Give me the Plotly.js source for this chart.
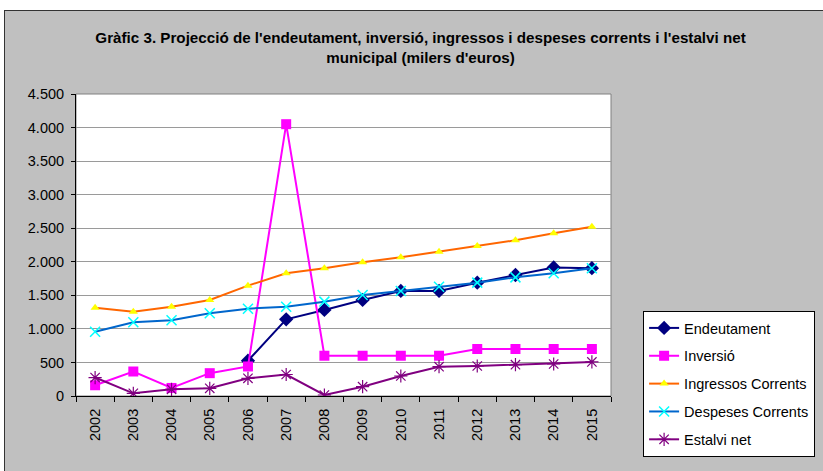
<!DOCTYPE html>
<html><head><meta charset="utf-8">
<script src="https://cdn.plot.ly/plotly-3.0.1.min.js"></script>
<style>
html,body{margin:0;padding:0;background:#fff;width:823px;height:471px;overflow:hidden;}
#chart{position:absolute;left:4px;top:10px;width:819px;height:461px;border-left:1px solid #333;border-top:1px solid #333;}
</style></head><body>
<div id="chart"></div>
<script>
const years = ['2002','2003','2004','2005','2006','2007','2008','2009','2010','2011','2012','2013','2014','2015'];
const endeutament = [null,null,null,null,526,1143,1282,1431,1565,1565,1689,1803,1915,1905];
const inversio = [160,365,120,340,440,4050,600,600,600,600,700,700,700,700];
const ingressos = [1316,1256,1331,1431,1644,1828,1903,1992,2067,2151,2236,2320,2424,2523];
const despeses = [958,1098,1128,1232,1301,1331,1406,1505,1565,1629,1689,1768,1828,1903];
const estalvi = [275,40,100,115,264,320,15,139,298,437,447,467,477,507];

const F = 'Liberation Sans, Arial, sans-serif';
function tr(name, y, lineColor, sym, mColor, mSize, mLine, grp){
  return {type:'scatter', mode:'lines+markers', name:name, x:years, y:y,
    legendgroup:grp, connectgaps:false,
    line:{color:lineColor, width:2},
    marker:{symbol:sym, color:mColor, size:mSize, line:{color:mColor, width:mLine}}};
}
const data = [
  tr('Endeutament', endeutament, '#000080', 'diamond', '#000080', 11, 0, 'a'),
  tr('Inversió', inversio, '#FF00FF', 'square', '#FF00FF', 10, 0, 'b'),
  tr('Ingressos Corrents', ingressos, '#FF6600', 'triangle-up', '#FFFF00', 8, 0, 'c'),
  tr('Despeses Corrents', despeses, '#0066CC', 'x-thin-open', '#00FFFF', 10, 1.5, 'd'),
  tr('Estalvi net', estalvi, '#800080', 'asterisk-open', '#800080', 11, 1.2, 'e')
];
const layout = {
  width:818, height:460,
  paper_bgcolor:'#c0c0c0', plot_bgcolor:'#ffffff',
  margin:{l:71, r:212, t:83, b:75, pad:0, autoexpand:false},
  separators:',.',
  font:{family:F, size:14, color:'#000'},
  title:{text:"Gràfic 3. Projecció de l'endeutament, inversió, ingressos i despeses corrents i l'estalvi net<br>municipal (milers d'euros)",
    font:{family:F, size:15.2, color:'#000', weight:'bold'},
    xref:'container', x:0.508, xanchor:'center', yref:'container', y:0.93, yanchor:'top'},
  xaxis:{type:'category', range:[-0.5,13.5], tickangle:-90, ticks:'outside', ticklen:5, tickcolor:'#000',
    tickson:'boundaries', showline:true, linecolor:'#000', linewidth:1, showgrid:false, ticklabelstandoff:6,
    tickfont:{family:F, size:14.5, color:'#000'}, fixedrange:true, automargin:false},
  yaxis:{range:[0,4500], dtick:500, tickformat:',d', ticks:'outside', ticklen:4, tickcolor:'#000',
    showline:true, linecolor:'#000', linewidth:1, gridcolor:'#9a9a9a', gridwidth:1, zeroline:false, ticklabelstandoff:4,
    tickfont:{family:F, size:14.5, color:'#000'}, fixedrange:true, automargin:false},
  shapes:[{type:'rect', xref:'paper', yref:'paper', x0:0, x1:1, y0:0, y1:1, line:{color:'#808080', width:1}, layer:'below'}],
  legend:{x:1.06, xanchor:'left', y:0.2815, yanchor:'top', bgcolor:'#fff', bordercolor:'#000', borderwidth:1,
    font:{family:F, size:14.5, color:'#000'}, tracegroupgap:6, itemwidth:30},
  showlegend:true
};
Plotly.newPlot('chart', data, layout, {displayModeBar:false, staticPlot:true});
</script></body></html>
